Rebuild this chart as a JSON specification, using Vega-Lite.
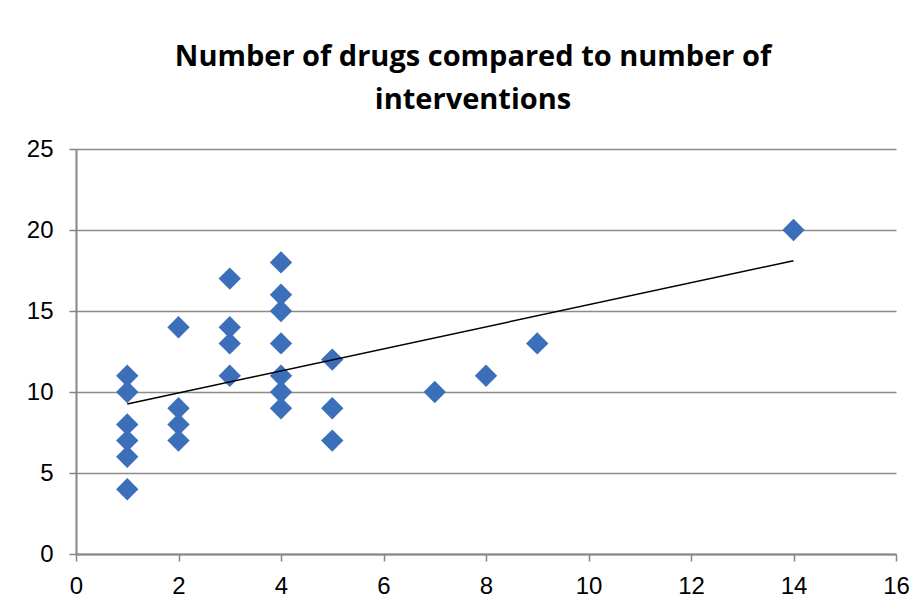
{
  "$schema": "https://vega.github.io/schema/vega-lite/v6.json",
  "autosize": "none",
  "padding": {"left": 76, "top": 149, "right": 26, "bottom": 58},
  "width": 820,
  "height": 405,
  "background": "white",
  "title": {
    "text": ["Number of drugs compared to number of", "interventions"],
    "font": "Open Sans",
    "fontSize": 29,
    "fontWeight": "bold",
    "color": "black",
    "lineHeight": 43,
    "anchor": "middle",
    "frame": "group",
    "baseline": "alphabetic",
    "offset": -1,
    "dx": -13
  },
  "data": {
    "values": [
      {"interventions": 1, "drugs": 4},
      {"interventions": 1, "drugs": 6},
      {"interventions": 1, "drugs": 7},
      {"interventions": 1, "drugs": 8},
      {"interventions": 1, "drugs": 10},
      {"interventions": 1, "drugs": 11},
      {"interventions": 2, "drugs": 7},
      {"interventions": 2, "drugs": 8},
      {"interventions": 2, "drugs": 9},
      {"interventions": 2, "drugs": 14},
      {"interventions": 3, "drugs": 11},
      {"interventions": 3, "drugs": 13},
      {"interventions": 3, "drugs": 14},
      {"interventions": 3, "drugs": 17},
      {"interventions": 4, "drugs": 9},
      {"interventions": 4, "drugs": 10},
      {"interventions": 4, "drugs": 11},
      {"interventions": 4, "drugs": 13},
      {"interventions": 4, "drugs": 15},
      {"interventions": 4, "drugs": 16},
      {"interventions": 4, "drugs": 18},
      {"interventions": 5, "drugs": 7},
      {"interventions": 5, "drugs": 9},
      {"interventions": 5, "drugs": 12},
      {"interventions": 7, "drugs": 10},
      {"interventions": 8, "drugs": 11},
      {"interventions": 9, "drugs": 13},
      {"interventions": 14, "drugs": 20}
    ]
  },
  "encoding": {
    "x": {
      "field": "interventions",
      "type": "quantitative",
      "scale": {"domain": [0, 16], "nice": false, "zero": false},
      "axis": {
        "title": null,
        "values": [0, 2, 4, 6, 8, 10, 12, 14, 16],
        "grid": false,
        "domainColor": "#868686",
        "domainWidth": 2,
        "tickColor": "#868686",
        "tickWidth": 1.5,
        "tickSize": 7,
        "labelFont": "Liberation Sans",
        "labelFontSize": 24,
        "labelColor": "black",
        "labelPadding": 13,
        "labelFlush": false
      }
    },
    "y": {
      "field": "drugs",
      "type": "quantitative",
      "scale": {"domain": [0, 25], "nice": false, "zero": true},
      "axis": {
        "title": null,
        "values": [0, 5, 10, 15, 20, 25],
        "grid": true,
        "gridColor": "#8c8c8c",
        "gridWidth": 1.5,
        "domainColor": "#868686",
        "domainWidth": 2,
        "tickColor": "#868686",
        "tickWidth": 1.5,
        "tickSize": 7,
        "labelFont": "Liberation Sans",
        "labelFontSize": 24,
        "labelColor": "black",
        "labelPadding": 16,
        "labelFlush": false
      }
    }
  },
  "layer": [
    {
      "mark": {"type": "point", "shape": "diamond", "filled": true, "size": 500, "color": "#3b6fba", "opacity": 1}
    },
    {
      "transform": [{"regression": "drugs", "on": "interventions"}],
      "mark": {"type": "line", "color": "black", "strokeWidth": 1.5}
    }
  ],
  "config": {
    "view": {"stroke": null}
  }
}
